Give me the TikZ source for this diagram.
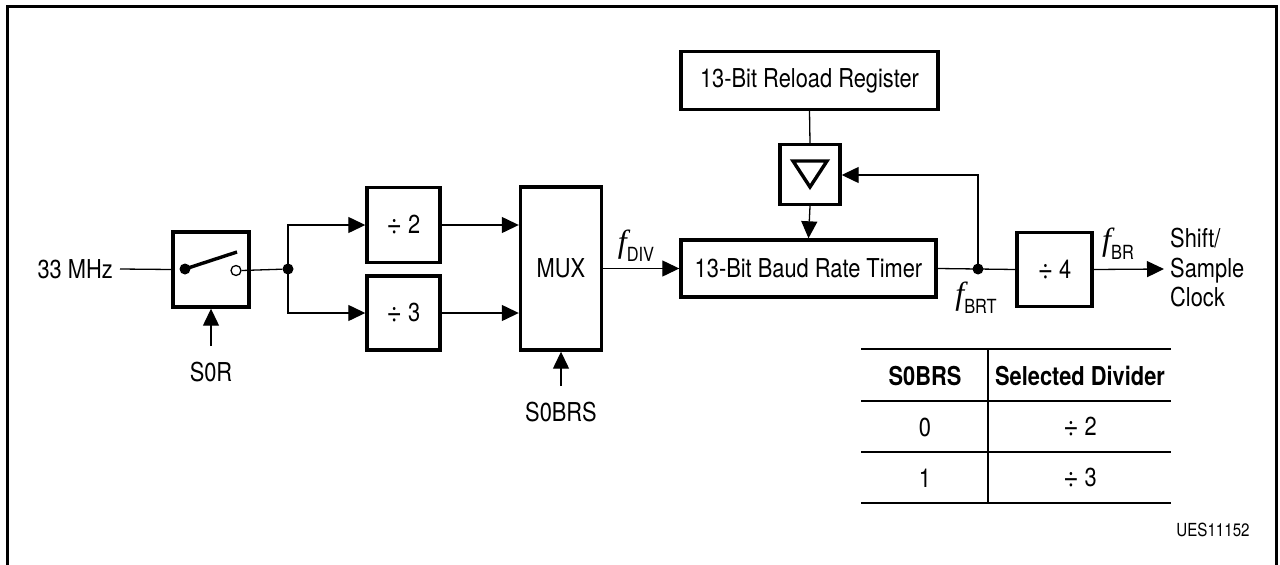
\documentclass[tikz,border=0pt]{standalone}
\usepackage{fontspec}
\setmainfont{TeX Gyre Heros}[FakeStretch=0.84]
\newfontfamily\fser{Liberation Serif}
\usetikzlibrary{arrows.meta}
\newcommand{\fsym}[1]{{\fser\itshape\fontsize{32}{32}\selectfont f}\raisebox{-9pt}{\fontsize{19.5}{19.5}\selectfont #1}}
\newcommand{\dv}{\raisebox{-1pt}{\scalebox{1.2}{÷}}}
\begin{document}
\begin{tikzpicture}[x=1pt,y=-1pt,
  blk/.style={draw,line width=3.4pt,inner sep=0pt,font=\fontsize{26}{31}\selectfont},
  wire/.style={line width=1.3pt},
  arr/.style={wire,-{Triangle[length=17pt,width=16pt]}},
  lbl/.style={inner sep=0pt,font=\fontsize{26}{31}\selectfont},
  dot/.style={circle,fill,inner sep=0pt,minimum size=11pt}
]
\useasboundingbox (0,0) rectangle (1280,565);
\draw[line width=3pt] (7.5,570) -- (7.5,6) -- (1276.5,6) -- (1276.5,570);

% nodes
\node[blk,minimum width=76pt,minimum height=75pt] (sw) at (211,269.5) {};
\node[blk,minimum width=73pt,minimum height=75pt] (d2) at (403.5,225) {\dv\ 2};
\node[blk,minimum width=73pt,minimum height=74pt] (d3) at (403.5,313) {\dv\ 3};
\node[blk,minimum width=81pt,minimum height=163pt] (mux) at (561,268.5) {\raisebox{-4pt}{MUX}};
\node[blk,minimum width=255pt,minimum height=57pt] (timer) at (808.5,268.5) {13-Bit Baud Rate Timer};
\node[blk,minimum width=257pt,minimum height=58pt] (reload) at (809.5,80.5) {13-Bit Reload Register};
\node[blk,minimum width=60pt,minimum height=60pt] (tri) at (810,174.5) {};
\node[blk,minimum width=75pt,minimum height=74pt] (d4) at (1054.5,269.5) {\dv\ 4};

\node[lbl,anchor=east] (mhz) at (113,269) {33 MHz};
\node[lbl] (s0r) at (211,372) {S0R};
\node[lbl] (s0brs) at (561,412) {S0BRS};
\node[inner sep=0pt] (fdiv) at (636,246) {\fsym{DIV}};
\node[inner sep=0pt] (fbrt) at (976,298) {\fsym{BRT}};
\node[inner sep=0pt] (fbr) at (1118,244) {\fsym{BR}};
\node[lbl,anchor=west,align=left,font=\fontsize{26}{29.5}\selectfont] (clk) at (1170,268) {Shift/\\Sample\\Clock};

% switch interior
\node[dot] (swa) at (185,269) {};
\node[circle,draw,line width=1.3pt,inner sep=0pt,minimum size=10pt] (swb) at (236,270.5) {};
\draw[line width=3.4pt] (swa.center) -- (237,252);

% junctions
\node[dot] (j1) at (288,269) {};
\node[dot] (j2) at (978,269) {};
\coordinate (in) at (120,269);
\coordinate (s0rin) at (211,346);
\coordinate (s0brsin) at (561,386);
\coordinate (fb) at (978,175);
\coordinate (out) at (1164,269);

% connectors
\draw[wire] (in) -- (sw.west);
\draw[wire] (swb.east) -- (j1);
\draw[arr] (j1.center) |- (d2.west);
\draw[arr] (j1.center) |- (d3.west);
\draw[arr] (d2.east) -- (d2.east -| mux.west);
\draw[arr] (d3.east) -- (d3.east -| mux.west);
\draw[arr] (s0rin) -- (sw.south);
\draw[arr] (s0brsin) -- (mux.south);
\draw[arr] (mux.east |- timer.west) -- (timer.west);
\draw[wire] (reload.south) -- (tri.north);
\draw[arr] (tri.south) -- (timer.north);
\draw[wire] (timer.east) -- (j2.center) -- (d4.west);
\draw[arr] (j2.center) -- (fb) -- (tri.east |- fb);
\draw[arr] (d4.east) -- (out);

% triangle symbol
\draw[line width=3.4pt,line join=miter] (793,161) -- (827,161) -- (810,187) -- cycle;

% table
\draw[wire] (861,349) -- (1171,349);
\draw[wire] (861,401) -- (1171,401);
\draw[wire] (861,452) -- (1171,452);
\draw[wire] (861,503) -- (1171,503);
\draw[wire] (988,349) -- (988,503);
\node[lbl,font=\bfseries\fontsize{26}{31}\selectfont] (th1) at (925,376) {S0BRS};
\node[lbl,font=\bfseries\fontsize{26}{31}\selectfont] (th2) at (1080,376) {Selected Divider};
\node[lbl] (r1a) at (925,427) {0};
\node[lbl] (r1b) at (1080,427) {\dv\ 2};
\node[lbl] (r2a) at (925,478) {1};
\node[lbl] (r2b) at (1080,478) {\dv\ 3};
\node[inner sep=0pt,font=\fontsize{18}{21}\selectfont] (ues) at (1213,530) {UES11152};
\end{tikzpicture}
\end{document}
